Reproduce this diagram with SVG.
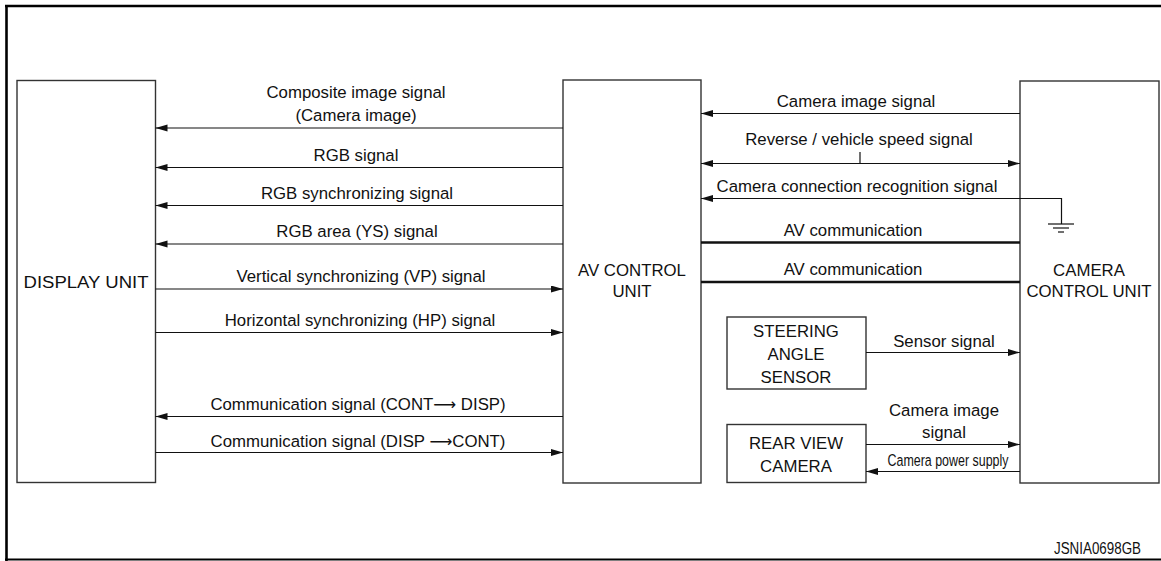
<svg xmlns="http://www.w3.org/2000/svg" width="1161" height="561" viewBox="0 0 1161 561">
<style>
text{font-family:"Liberation Sans",Arial,sans-serif;font-size:16.8px;fill:#111;text-anchor:middle;dominant-baseline:central}
.arr{font-family:"DejaVu Sans",sans-serif;font-size:16px}
.box{fill:#fff;stroke:#333;stroke-width:1.4}
.w{stroke:#111;stroke-width:1.2;fill:none}
.thick{stroke:#111;stroke-width:2.4;fill:none}
.ae{marker-end:url(#ah)}
.as{marker-start:url(#ahs)}
</style>
<defs>
<marker id="ah" markerUnits="userSpaceOnUse" markerWidth="13" markerHeight="8" refX="12" refY="3.5" orient="auto"><path d="M0,0 L12,3.5 L0,7 z" fill="#111"/></marker>
<marker id="ahs" markerUnits="userSpaceOnUse" markerWidth="13" markerHeight="8" refX="0" refY="3.5" orient="auto"><path d="M12,0 L0,3.5 L12,7 z" fill="#111"/></marker>
</defs>
<rect width="1161" height="561" fill="#fff"/>
<g id="frame" fill="none" stroke="#000">
<line x1="5" y1="6" x2="1161" y2="6" stroke-width="2.6"/>
<line x1="6.5" y1="5" x2="6.5" y2="561" stroke-width="2.6"/>
<line x1="5" y1="559.5" x2="1161" y2="559.5" stroke-width="1.8"/>
</g>
<g id="display-unit">
<rect class="box" x="17" y="80.5" width="138.5" height="402"/>
<text x="86" y="282" textLength="125" lengthAdjust="spacingAndGlyphs">DISPLAY UNIT</text>
</g>
<g id="av-control-unit">
<rect class="box" x="563" y="80" width="138" height="403"/>
<text x="632" y="270">AV CONTROL</text>
<text x="632" y="291">UNIT</text>
</g>
<g id="camera-control-unit">
<rect class="box" x="1020" y="81" width="139" height="402"/>
<text x="1089" y="270">CAMERA</text>
<text x="1089" y="291">CONTROL UNIT</text>
</g>
<g id="steering-angle-sensor">
<rect class="box" x="727" y="317" width="139" height="72"/>
<text x="796" y="331">STEERING</text>
<text x="796" y="354">ANGLE</text>
<text x="796" y="377">SENSOR</text>
</g>
<g id="rear-view-camera">
<rect class="box" x="727" y="424.5" width="139" height="58"/>
<text x="796" y="443">REAR VIEW</text>
<text x="796" y="466">CAMERA</text>
</g>
<g id="connectors">
<line class="w ae" x1="563" y1="128" x2="155.5" y2="128"/>
<line class="w ae" x1="563" y1="167.5" x2="155.5" y2="167.5"/>
<line class="w ae" x1="563" y1="205.5" x2="155.5" y2="205.5"/>
<line class="w ae" x1="563" y1="244" x2="155.5" y2="244"/>
<line class="w ae" x1="155.5" y1="289" x2="563" y2="289"/>
<line class="w ae" x1="155.5" y1="332.5" x2="563" y2="332.5"/>
<line class="w ae" x1="563" y1="416.5" x2="155.5" y2="416.5"/>
<line class="w ae" x1="155.5" y1="452.5" x2="563" y2="452.5"/>
<line class="w ae" x1="1020" y1="113.5" x2="701" y2="113.5"/>
<line class="w ae as" x1="701" y1="163.5" x2="1020" y2="163.5"/>
<line class="w" x1="860" y1="152" x2="860" y2="163.5"/>
<polyline class="w" points="1061.5,224 1061.5,198.5 1020,198.5"/>
<line class="w ae" x1="1020" y1="198.5" x2="701" y2="198.5"/>
<line class="w" x1="1048" y1="224" x2="1074" y2="224"/>
<line class="w" x1="1053" y1="228" x2="1069" y2="228"/>
<line class="w" x1="1058" y1="232" x2="1064" y2="232"/>
<line class="thick" x1="701" y1="242.5" x2="1020" y2="242.5"/>
<line class="thick" x1="701" y1="282" x2="1020" y2="282"/>
<line class="w ae" x1="866" y1="352.5" x2="1020" y2="352.5"/>
<line class="w ae" x1="866" y1="444.5" x2="1020" y2="444.5"/>
<line class="w ae" x1="1020" y1="471.5" x2="866" y2="471.5"/>
</g>
<g id="labels">
<text x="356" y="92">Composite image signal</text>
<text x="356" y="115">(Camera image)</text>
<text x="356" y="155">RGB signal</text>
<text x="357" y="193">RGB synchronizing signal</text>
<text x="357" y="231">RGB area (YS) signal</text>
<text x="361" y="276">Vertical synchronizing (VP) signal</text>
<text x="360" y="320">Horizontal synchronizing (HP) signal</text>
<text x="358" y="404">Communication signal (CONT<tspan class="arr">⟶</tspan> DISP)</text>
<text x="358" y="441">Communication signal (DISP <tspan class="arr">⟶</tspan>CONT)</text>
<text x="856" y="101">Camera image signal</text>
<text x="859" y="139">Reverse / vehicle speed signal</text>
<text x="857" y="186">Camera connection recognition signal</text>
<text x="853" y="230">AV communication</text>
<text x="853" y="269">AV communication</text>
<text x="944" y="341">Sensor signal</text>
<text x="944" y="410">Camera image</text>
<text x="944" y="432">signal</text>
<text x="948" y="460" font-size="14" textLength="121" lengthAdjust="spacingAndGlyphs">Camera power supply</text>
<text x="1141" y="548" font-size="11.5" textLength="87" lengthAdjust="spacingAndGlyphs" style="text-anchor:end">JSNIA0698GB</text>
</g>
</svg>
